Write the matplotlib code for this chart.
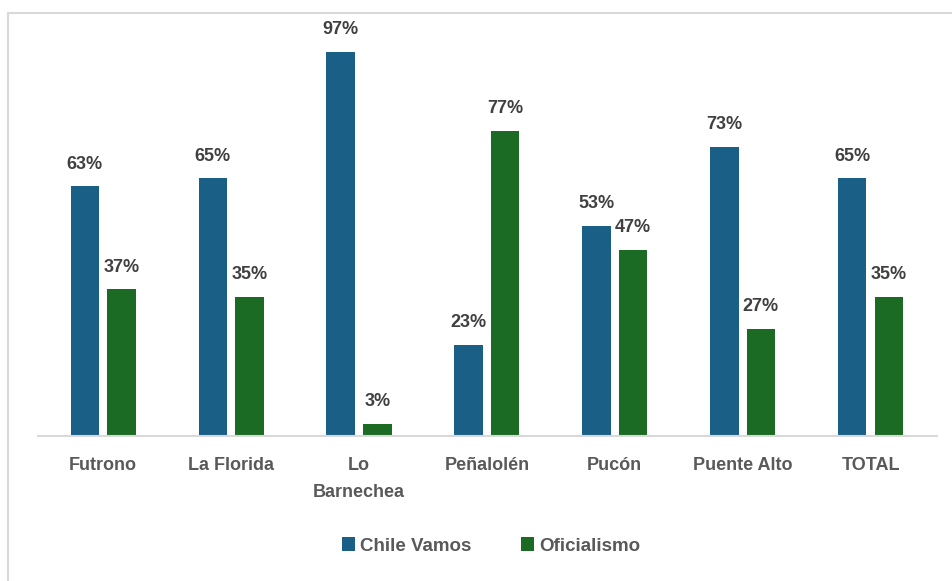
import matplotlib.pyplot as plt
from matplotlib.patches import Rectangle
import numpy as np

plt.rcParams["font.family"] = ["Liberation Sans", "DejaVu Sans"]

# data
categories = ["Futrono", "La Florida", "Lo\nBarnechea", "Peñalolén", "Pucón", "Puente Alto", "TOTAL"]
chile_vamos = [63, 65, 97, 23, 53, 73, 65]
oficialismo = [37, 35, 3, 77, 47, 27, 35]

blue = "#1a5f86"
green = "#1b6b25"
label_col = "#404040"
tick_col = "#595959"

fig = plt.figure(figsize=(9.52, 5.81), dpi=100)
ax = fig.add_axes([38 / 952, 1 - 436 / 581, (937 - 38) / 952, (436 - 20) / 581])

x = np.arange(len(categories))
w = 0.223
off = 0.143

b1 = ax.bar(x - off, chile_vamos, w, color=blue, label="Chile Vamos")
b2 = ax.bar(x + off, oficialismo, w, color=green, label="Oficialismo")

for bars, vals in [(b1, chile_vamos), (b2, oficialismo)]:
    for bar, v in zip(bars, vals):
        ax.annotate(f"{v}%", (bar.get_x() + bar.get_width() / 2, v),
                    xytext=(0, 10), textcoords="offset points",
                    ha="center", va="bottom", fontsize=13, fontweight="bold",
                    color=label_col)

ax.set_xlim(-0.51, 6.52)
ax.set_ylim(0, 105)
ax.set_xticks(x)
ax.set_xticklabels(categories, fontsize=13, fontweight="bold", color=tick_col,
                   linespacing=1.75, va="top")
ax.tick_params(axis="x", length=0, pad=15)
ax.set_yticks([])
for s in ["top", "right", "left"]:
    ax.spines[s].set_visible(False)
ax.spines["bottom"].set_color("#d9d9d9")
ax.spines["bottom"].set_linewidth(1.5)

leg = fig.legend(loc="center", bbox_to_anchor=(491 / 952, 1 - 546 / 581), ncol=2,
                 frameon=False, handlelength=0.7, handleheight=0.7,
                 handletextpad=0.3, columnspacing=2.6,
                 prop={"size": 13.5, "weight": "bold"})
for t in leg.get_texts():
    t.set_color(tick_col)

# light outline of the chart area
fig.patches.append(Rectangle((8 / 952, -0.05), 1.1, 1 - 13 / 581 + 0.05,
                             transform=fig.transFigure, fill=False,
                             edgecolor="#d9d9d9", linewidth=1.5))

plt.savefig("out.png", dpi=100)
